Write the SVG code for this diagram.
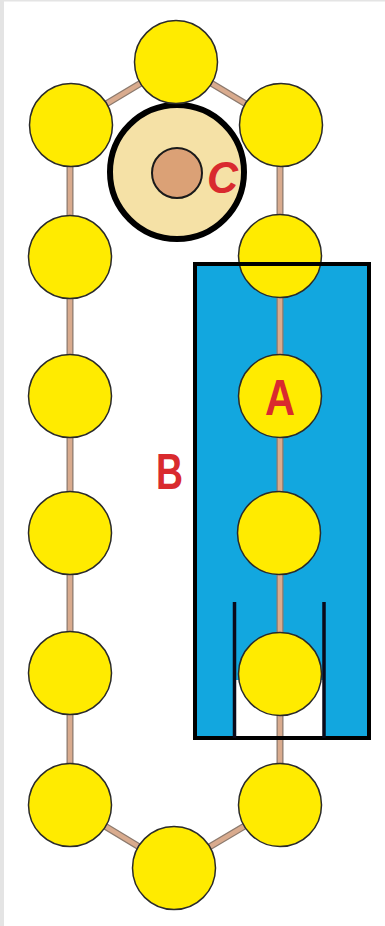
<svg xmlns="http://www.w3.org/2000/svg" width="385" height="926" viewBox="0 0 385 926">
<style>
.bead{fill:#FFEB00;stroke:#2a2a2a;stroke-width:1.5}
.rodo{stroke:#8c7a6e;stroke-width:7;fill:none}
.rodi{stroke:#D9AB8E;stroke-width:4.5;fill:none}
.lbl{font-family:"Liberation Sans",Arial,sans-serif;font-weight:bold;fill:#D92A2E}
</style>
<rect x="0" y="0" width="385" height="926" fill="#ffffff"/>
<rect x="0" y="0" width="4" height="926" fill="#e4e4e4"/>
<rect x="0" y="0" width="385" height="1.5" fill="#e4e4e4"/>
<g id="chamber-fill">
<rect x="195" y="264" width="174" height="474" fill="#12A7DF"/>
<rect x="236" y="680" width="87" height="58" fill="#ffffff"/>
</g>
<g id="connectors">
<path class="rodo" d="M71,125 L176,62 L281,125 M70,125 L70,805 L174,868 L280,805 L280,125"/>
<path class="rodi" d="M71,125 L176,62 L281,125 M70,125 L70,805 L174,868 L280,805 L280,125"/>
</g>
<g id="hub">
<circle cx="177" cy="172" r="67" fill="#F5E1A6" stroke="#000" stroke-width="6"/>
<circle cx="177" cy="173" r="25" fill="#DBA176" stroke="#1a1a1a" stroke-width="2"/>
</g>
<g id="beads">
<circle class="bead" cx="176" cy="62" r="41.5"/>
<circle class="bead" cx="71" cy="125" r="41.5"/>
<circle class="bead" cx="281" cy="125" r="41.5"/>
<circle class="bead" cx="70" cy="257" r="41.5"/>
<circle class="bead" cx="280" cy="256" r="41.5"/>
<circle class="bead" cx="70" cy="396" r="41.5"/>
<circle class="bead" cx="280" cy="396" r="41.5"/>
<circle class="bead" cx="70" cy="533" r="41.5"/>
<circle class="bead" cx="279" cy="533" r="41.5"/>
<circle class="bead" cx="70" cy="673" r="41.5"/>
<circle class="bead" cx="280" cy="674" r="41.5"/>
<circle class="bead" cx="70" cy="805" r="41.5"/>
<circle class="bead" cx="280" cy="805" r="41.5"/>
<circle class="bead" cx="174" cy="868" r="41.5"/>
</g>
<g id="chamber-outline">
<rect x="195" y="264" width="174" height="474" fill="none" stroke="#000" stroke-width="4"/>
<line x1="234.5" y1="602" x2="234.5" y2="738" stroke="#0a0a1a" stroke-width="3.5"/>
<line x1="324" y1="602" x2="324" y2="738" stroke="#0a0a1a" stroke-width="3.5"/>
</g>
<g id="labels">
<text class="lbl" x="207" y="193" font-size="44" font-style="italic" textLength="31" lengthAdjust="spacingAndGlyphs">C</text>
<text class="lbl" x="265" y="415" font-size="50" textLength="30" lengthAdjust="spacingAndGlyphs">A</text>
<text class="lbl" x="156" y="489" font-size="50" textLength="27" lengthAdjust="spacingAndGlyphs">B</text>
</g>
</svg>
